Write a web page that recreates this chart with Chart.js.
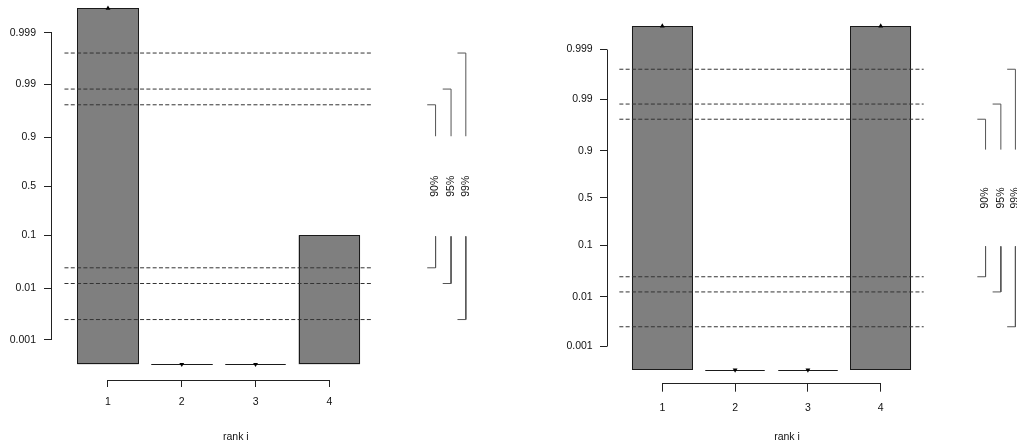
<!DOCTYPE html>
<html>
<head>
<meta charset="utf-8">
<script src="https://cdn.jsdelivr.net/npm/chart.js@4.4.1/dist/chart.umd.min.js"></script>
<style>
  html, body { margin: 0; padding: 0; background: #fff; overflow: hidden; width: 1017px; height: 443px; }
  canvas { position: absolute; top: 0; }
</style>
</head>
<body>
<canvas id="rankLeft" width="509" height="443" style="left:0px"></canvas>
<canvas id="rankRight" width="508" height="443" style="left:509px"></canvas>
<script>
// ranks on the horizontal axis
const ranks = [1, 2, 3, 4];
const rankLabels = ['1', '2', '3', '4'];

// probability axis (drawn on a logit scale)
const probTicks = [0.001, 0.01, 0.1, 0.5, 0.9, 0.99, 0.999];
const probTickLabels = ['0.001', '0.01', '0.1', '0.5', '0.9', '0.99', '0.999'];

// rank probabilities of the two panels
const leftProbs = [0.9999, 0.0001, 0.0001, 0.1];
const rightProbs = [0.9999, 0.0001, 0.0001, 0.9999];

// simultaneous confidence bounds
const confLabels = ['90%', '95%', '99%'];
const upperBounds = [0.975, 0.9875, 0.9975];
const lowerBounds = [0.025, 0.0125, 0.0025];

const LIMIT = 8;                 // logit range covered by the bars
const GAP = 2.25;                // half height of the gap in each bracket (logit units)
const BRACKET_X = [5.44, 5.65, 5.85];
const BRACKET_TICK = 0.113;
const BOUND_SPAN = [0.41, 4.59];

const FONT = { family: "'Liberation Sans', Arial, sans-serif", size: 10.5 };
const INK = '#222';
const TEXT = '#111';

const logit = p => Math.log(p / (1 - p));
const clamp = v => Math.max(-LIMIT, Math.min(LIMIT, v));

function buildDatasets(probs) {
  const sets = [];
  const shown = probs.map(p => clamp(logit(p)));

  sets.push({
    type: 'bar',
    order: 3,
    data: ranks.map((r, i) => ({ x: r, y: [-LIMIT, shown[i]] })),
    backgroundColor: '#7f7f7f',
    borderWidth: 0,
    categoryPercentage: 1,
    barPercentage: 1 / 1.2
  });

  // dashed bound lines
  [...upperBounds, ...lowerBounds].forEach(p => {
    const y = logit(p);
    sets.push({
      type: 'line',
      order: 2,
      data: BOUND_SPAN.map(x => ({ x, y })),
      borderColor: '#333',
      borderWidth: 1,
      borderDash: [4, 2.3],
      pointRadius: 0,
      fill: false
    });
  });

  // brackets beside the plot (points listed from the gap outwards)
  confLabels.forEach((_, k) => {
    const bx = BRACKET_X[k];
    const hi = logit(upperBounds[k]);
    const lo = logit(lowerBounds[k]);
    const common = { type: 'line', order: 2, clip: false, borderColor: '#555', borderWidth: 1, pointRadius: 0, fill: false };
    sets.push(Object.assign({ data: [{ x: bx, y: GAP }, { x: bx, y: hi }, { x: bx - BRACKET_TICK, y: hi }] }, common));
    sets.push(Object.assign({ data: [{ x: bx, y: -GAP }, { x: bx, y: lo }, { x: bx - BRACKET_TICK, y: lo }] }, common));
  });

  // triangles for values beyond the shown range
  const marks = [];
  const rot = [];
  probs.forEach((p, i) => {
    const v = logit(p);
    if (Math.abs(v) > LIMIT) {
      marks.push({ x: ranks[i], y: shown[i] });
      rot.push(v > 0 ? 0 : 180);
    }
  });
  sets.push({
    type: 'line',
    order: 1,
    showLine: false,
    clip: false,
    data: marks,
    pointStyle: 'triangle',
    pointRadius: 2.8,
    pointHoverRadius: 2.8,
    pointRotation: rot,
    pointBackgroundColor: '#000',
    pointBorderWidth: 0
  });
  return sets;
}

// outline of every bar, also for bars of zero height
const barOutline = {
  id: 'barOutline',
  afterDatasetDraw(chart, args) {
    if (args.meta.type !== 'bar') return;
    const ctx = chart.ctx;
    ctx.save();
    ctx.strokeStyle = '#1a1a1a';
    ctx.lineWidth = 1;
    args.meta.data.forEach(bar => {
      const { x, y, base, width } = bar.getProps(['x', 'y', 'base', 'width'], true);
      const l = Math.round(x - width / 2) + 0.5;
      const r = Math.round(x + width / 2) - 0.5;
      const t = Math.round(Math.min(y, base)) + 0.5;
      const b = Math.round(Math.max(y, base)) - 0.5;
      ctx.strokeRect(l, t, r - l, Math.max(0, b - t));
    });
    ctx.restore();
  }
};

// axis lines running from the first to the last tick
const axisLines = {
  id: 'axisLines',
  afterDraw(chart) {
    const { ctx, chartArea, scales: { x, y } } = chart;
    ctx.save();
    ctx.strokeStyle = INK;
    ctx.lineWidth = 1;
    ctx.beginPath();
    const ax = Math.round(chartArea.left - 0.5) + 0.5;
    ctx.moveTo(ax, Math.round(y.getPixelForValue(logit(probTicks[0])) - 0.5) + 0.5);
    ctx.lineTo(ax, Math.round(y.getPixelForValue(logit(probTicks[probTicks.length - 1])) - 0.5) + 0.5);
    const by = Math.round(chartArea.bottom - 0.5) + 0.5;
    ctx.moveTo(Math.round(x.getPixelForValue(ranks[0]) - 0.5) + 0.5, by);
    ctx.lineTo(Math.round(x.getPixelForValue(ranks[ranks.length - 1]) - 0.5) + 0.5, by);
    ctx.stroke();
    ctx.restore();
  }
};

// rotated confidence labels between the bracket halves
const boundLabels = {
  id: 'boundLabels',
  afterDraw(chart) {
    const { ctx, scales: { x, y } } = chart;
    ctx.save();
    ctx.fillStyle = TEXT;
    ctx.font = FONT.size + 'px ' + FONT.family;
    ctx.textAlign = 'center';
    ctx.textBaseline = 'middle';
    confLabels.forEach((label, k) => {
      ctx.save();
      ctx.translate(x.getPixelForValue(BRACKET_X[k]), y.getPixelForValue(0));
      ctx.rotate(-Math.PI / 2);
      ctx.fillText(label, 0, 0);
      ctx.restore();
    });
    ctx.restore();
  }
};

function makeChart(canvasId, probs, g) {
  return new Chart(document.getElementById(canvasId), {
    type: 'bar',
    data: { datasets: buildDatasets(probs) },
    options: {
      responsive: false,
      animation: false,
      devicePixelRatio: 1,
      events: [],
      layout: { padding: { left: 0, right: g.padRight, top: g.padTop, bottom: 0 } },
      plugins: { legend: { display: false }, tooltip: { enabled: false } },
      scales: {
        x: {
          type: 'linear',
          min: g.xMin,
          max: g.xMax,
          offset: false,
          afterBuildTicks: s => { s.ticks = ranks.map(v => ({ value: v })); },
          afterFit: s => { s.height = g.xAxisHeight; s.paddingLeft = 0; s.paddingRight = 0; },
          grid: { display: true, offset: false, drawOnChartArea: false, drawTicks: true, tickLength: g.xTick, color: INK, lineWidth: 1 },
          border: { display: false },
          ticks: { callback: (v, i) => rankLabels[i], color: TEXT, font: FONT, padding: g.xPad, maxRotation: 0, autoSkip: false },
          title: { display: true, text: 'rank i', color: TEXT, font: FONT, padding: { top: 0, bottom: 0 } }
        },
        y: {
          type: 'linear',
          min: g.yMin,
          max: LIMIT,
          afterBuildTicks: s => { s.ticks = probTicks.map(p => ({ value: logit(p) })); },
          afterFit: s => { s.width = g.yAxisWidth; s.paddingTop = 0; s.paddingBottom = 0; },
          grid: { display: true, drawOnChartArea: false, drawTicks: true, tickLength: g.yTick, color: INK, lineWidth: 1 },
          border: { display: false },
          ticks: { callback: (v, i) => probTickLabels[i], color: TEXT, font: FONT, padding: g.yPad, autoSkip: false }
        }
      }
    },
    plugins: [barOutline, axisLines, boundLabels]
  });
}

makeChart('rankLeft', leftProbs, {
  padRight: 89, padTop: 8.3, xAxisHeight: 63, yAxisWidth: 51.7,
  xMin: 0.237, xMax: 5.229, yMin: -8.706,
  xTick: 7, xPad: 9.3, yTick: 7.7, yPad: 8
});

makeChart('rankRight', rightProbs, {
  padRight: 50.3, padTop: 26, xAxisHeight: 59.7, yAxisWidth: 98.3,
  xMin: 0.2445, xMax: 5.181, yMin: -8.619,
  xTick: 8.4, xPad: 9.8, yTick: 7.3, yPad: 7.3
});
</script>
</body>
</html>
